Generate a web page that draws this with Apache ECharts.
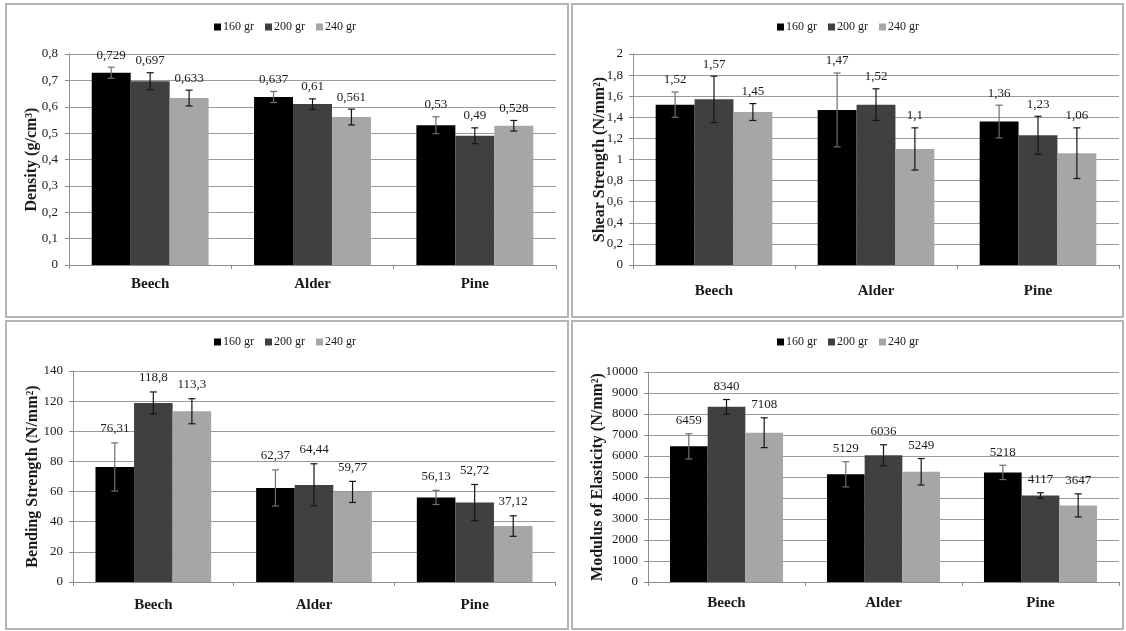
<!DOCTYPE html>
<html>
<head>
<meta charset="utf-8">
<script src="https://cdn.jsdelivr.net/npm/echarts@6/dist/echarts.min.js"></script>
<style>
html,body{margin:0;padding:0;background:#fff;width:1126px;height:631px;overflow:hidden;}
.p{position:absolute;}
</style>
</head>
<body>
<div id="c1" class="p" style="left:0;top:0;width:570px;height:319px"></div>
<div id="c2" class="p" style="left:570px;top:0;width:556px;height:319px"></div>
<div id="c3" class="p" style="left:0;top:319px;width:570px;height:312px"></div>
<div id="c4" class="p" style="left:570px;top:319px;width:556px;height:312px"></div>
<script>
const categories = ['Beech', 'Alder', 'Pine'];
const seriesNames = ['160 gr', '200 gr', '240 gr'];

const density160 = [0.729, 0.637, 0.53];
const density200 = [0.697, 0.61, 0.49];
const density240 = [0.633, 0.561, 0.528];
const densityErr160 = [0.021, 0.021, 0.032];
const densityErr200 = [0.032, 0.02, 0.03];
const densityErr240 = [0.03, 0.03, 0.02];

const shear160 = [1.52, 1.47, 1.36];
const shear200 = [1.57, 1.52, 1.23];
const shear240 = [1.45, 1.1, 1.06];
const shearErr160 = [0.12, 0.35, 0.155];
const shearErr200 = [0.22, 0.15, 0.18];
const shearErr240 = [0.08, 0.2, 0.24];

const bending160 = [76.31, 62.37, 56.13];
const bending200 = [118.8, 64.44, 52.72];
const bending240 = [113.3, 59.77, 37.12];
const bendingErr160 = [16, 12, 4.7];
const bendingErr200 = [7.3, 14, 12];
const bendingErr240 = [8.3, 7, 6.8];

const moe160 = [6459, 5129, 5218];
const moe200 = [8340, 6036, 4117];
const moe240 = [7108, 5249, 3647];
const moeErr160 = [600, 600, 340];
const moeErr200 = [350, 500, 130];
const moeErr240 = [710, 630, 550];

const barColors = ['#000000', '#404040', '#a6a6a6'];
const errColors = ['#6e6e6e', '#151515', '#151515'];
const FONT = 'Liberation Serif';
const CAT_GAP = 0.28;

function fmt(v) { return String(v).replace('.', ','); }

function makeChart(el, cfg) {
  const chart = echarts.init(document.getElementById(el), null, {renderer: 'canvas'});
  const values = cfg.values, errs = cfg.errs;
  const series = [];
  for (let k = 0; k < 3; k++) {
    series.push({
      name: seriesNames[k], type: 'bar', data: values[k],
      barGap: '0%', barCategoryGap: (CAT_GAP * 100) + '%',
      itemStyle: {color: barColors[k]}, z: 2
    });
  }
  for (let k = 0; k < 3; k++) {
    const data = values[k].map((v, i) => [i, v, errs[k][i]]);
    series.push({
      type: 'custom', z: 5, silent: true,
      encode: {x: 0, y: 1},
      data: data,
      renderItem: (function (kk) {
        return function (params, api) {
          const i = api.value(0), v = api.value(1), e = api.value(2);
          const c = api.coord([i, v]);
          const band = api.size([1, 0])[0];
          const bw = band * (1 - CAT_GAP) / 3;
          const x = c[0] + (kk - 1) * bw;
          const yTop = api.coord([i, v + e])[1];
          const yBot = api.coord([i, v - e])[1];
          const hw = 3.5;
          const st = {stroke: errColors[kk], lineWidth: 1.2};
          return {
            type: 'group',
            children: [
              {type: 'line', shape: {x1: x, y1: yTop, x2: x, y2: yBot}, style: st},
              {type: 'line', shape: {x1: x - hw, y1: yTop, x2: x + hw, y2: yTop}, style: st},
              {type: 'line', shape: {x1: x - hw, y1: yBot, x2: x + hw, y2: yBot}, style: st},
              {type: 'text', x: x, y: yTop - cfg.labelOffset,
               style: {text: fmt(v), fill: '#1a1a1a', font: '13px "' + FONT + '"',
                       align: 'center', verticalAlign: 'middle'}}
            ]
          };
        };
      })(k)
    });
  }
  chart.setOption({
    animation: false,
    textStyle: {fontFamily: FONT},
    graphic: [{
      type: 'rect', silent: true, z: 0,
      shape: {x: cfg.border[0], y: cfg.border[1], width: cfg.border[2], height: cfg.border[3]},
      style: {fill: 'none', stroke: '#b3b3b3', lineWidth: 2}
    }],
    legend: {
      data: seriesNames, top: cfg.legendTop, left: 'center',
      icon: 'rect', itemWidth: 7, itemHeight: 7, itemGap: 11,
      textStyle: {fontFamily: FONT, fontSize: 12, color: '#1a1a1a', padding: [0, 0, 0, -3]}
    },
    grid: cfg.grid,
    xAxis: {
      type: 'category', data: categories,
      axisLine: {lineStyle: {color: '#8c8c8c', width: 1}},
      axisTick: {show: true, length: 4, lineStyle: {color: '#8c8c8c'}},
      axisLabel: {fontFamily: FONT, fontSize: 15, fontWeight: 'bold', color: '#1a1a1a', margin: cfg.xMargin}
    },
    yAxis: {
      type: 'value', min: 0, max: cfg.max, interval: cfg.interval,
      name: cfg.yName, nameLocation: 'middle', nameRotate: 90, nameGap: cfg.nameGap,
      nameMoveOverlap: false,
      nameTextStyle: {fontFamily: FONT, fontSize: 16, fontWeight: 'bold', color: '#1a1a1a'},
      axisLine: {show: true, lineStyle: {color: '#8c8c8c', width: 1}},
      axisTick: {show: true, length: 4, lineStyle: {color: '#8c8c8c'}},
      splitLine: {lineStyle: {color: '#9a9a9a', width: 1}},
      axisLabel: {fontFamily: FONT, fontSize: 13, color: '#1a1a1a', margin: cfg.yMargin, formatter: fmt}
    },
    series: series
  });
  return chart;
}

makeChart('c1', {
  values: [density160, density200, density240],
  errs: [densityErr160, densityErr200, densityErr240],
  max: 0.8, interval: 0.1, yName: 'Density (g/cm³)', nameGap: 29,
  grid: {left: 69, right: 14, top: 54, bottom: 54},
  legendTop: 16, xMargin: 12, yMargin: 11, labelOffset: 12,
  border: [6, 4, 562, 313]
});
makeChart('c2', {
  values: [shear160, shear200, shear240],
  errs: [shearErr160, shearErr200, shearErr240],
  max: 2, interval: 0.2, yName: 'Shear Strength (N/mm²)', nameGap: 25,
  grid: {left: 63, right: 7, top: 54, bottom: 54},
  legendTop: 16, xMargin: 19, yMargin: 10, labelOffset: 12,
  border: [2, 4, 551, 313]
});
makeChart('c3', {
  values: [bending160, bending200, bending240],
  errs: [bendingErr160, bendingErr200, bendingErr240],
  max: 140, interval: 20, yName: 'Bending Strength (N/mm²)', nameGap: 32,
  grid: {left: 73, right: 15, top: 52, bottom: 49},
  legendTop: 12, xMargin: 16, yMargin: 10, labelOffset: 14,
  border: [6, 2, 562, 308]
});
makeChart('c4', {
  values: [moe160, moe200, moe240],
  errs: [moeErr160, moeErr200, moeErr240],
  max: 10000, interval: 1000, yName: 'Modulus of Elasticity (N/mm²)', nameGap: 42,
  grid: {left: 78, right: 7, top: 53, bottom: 49},
  legendTop: 12, xMargin: 14, yMargin: 10, labelOffset: 13,
  border: [2, 2, 551, 308]
});
</script>
</body>
</html>
